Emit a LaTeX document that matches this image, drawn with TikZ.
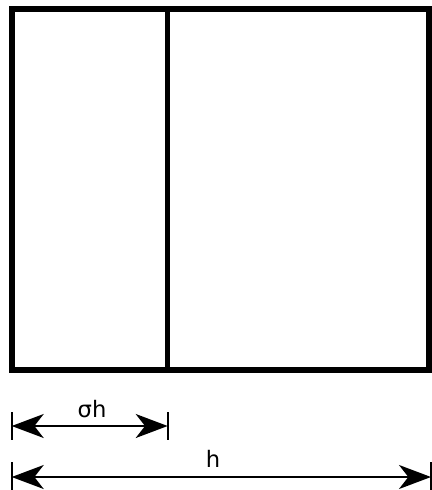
\documentclass[tikz,border=0pt]{standalone}
\usepackage{fontspec}
\setmainfont{DejaVu Sans}
\usetikzlibrary{arrows.meta}
\begin{document}
\begin{tikzpicture}[x=0.75pt, y=-0.75pt,
    dimline/.style={line width=1.5pt, {Stealth[length=24pt, width=18pt, inset=7pt]}-{Stealth[length=24pt, width=18pt, inset=7pt]}},
    dimtick/.style={line width=1.5pt},
    lbl/.style={font=\fontsize{17}{20}\selectfont, inner sep=0pt}]
    \useasboundingbox (0, 0) rectangle (432, 490);
    % the two parts
    \draw[line width=4.5pt] (11.5, 9) rectangle (429, 370);
    \coordinate (T) at (167.5, 9);
    \coordinate (B) at (167.5, 370);
    \draw[line width=4pt] (T) -- (B);
    % sigma h
    \coordinate (S1) at (11.7, 426);
    \coordinate (S2) at (167.7, 426);
    \draw[dimtick] (11.7, 412) -- (11.7, 440);
    \draw[dimtick] (167.7, 412) -- (167.7, 440);
    \draw[dimline] (S1) -- (S2);
    \node[lbl] (sh) at (92, 409) {σh};
    % h
    \coordinate (H1) at (11.7, 477);
    \coordinate (H2) at (431, 477);
    \draw[dimtick] (11.7, 462) -- (11.7, 490);
    \draw[dimtick] (431, 462) -- (431, 490);
    \draw[dimline] (H1) -- (H2);
    \node[lbl] (h) at (213, 459) {h};
\end{tikzpicture}
\end{document}
